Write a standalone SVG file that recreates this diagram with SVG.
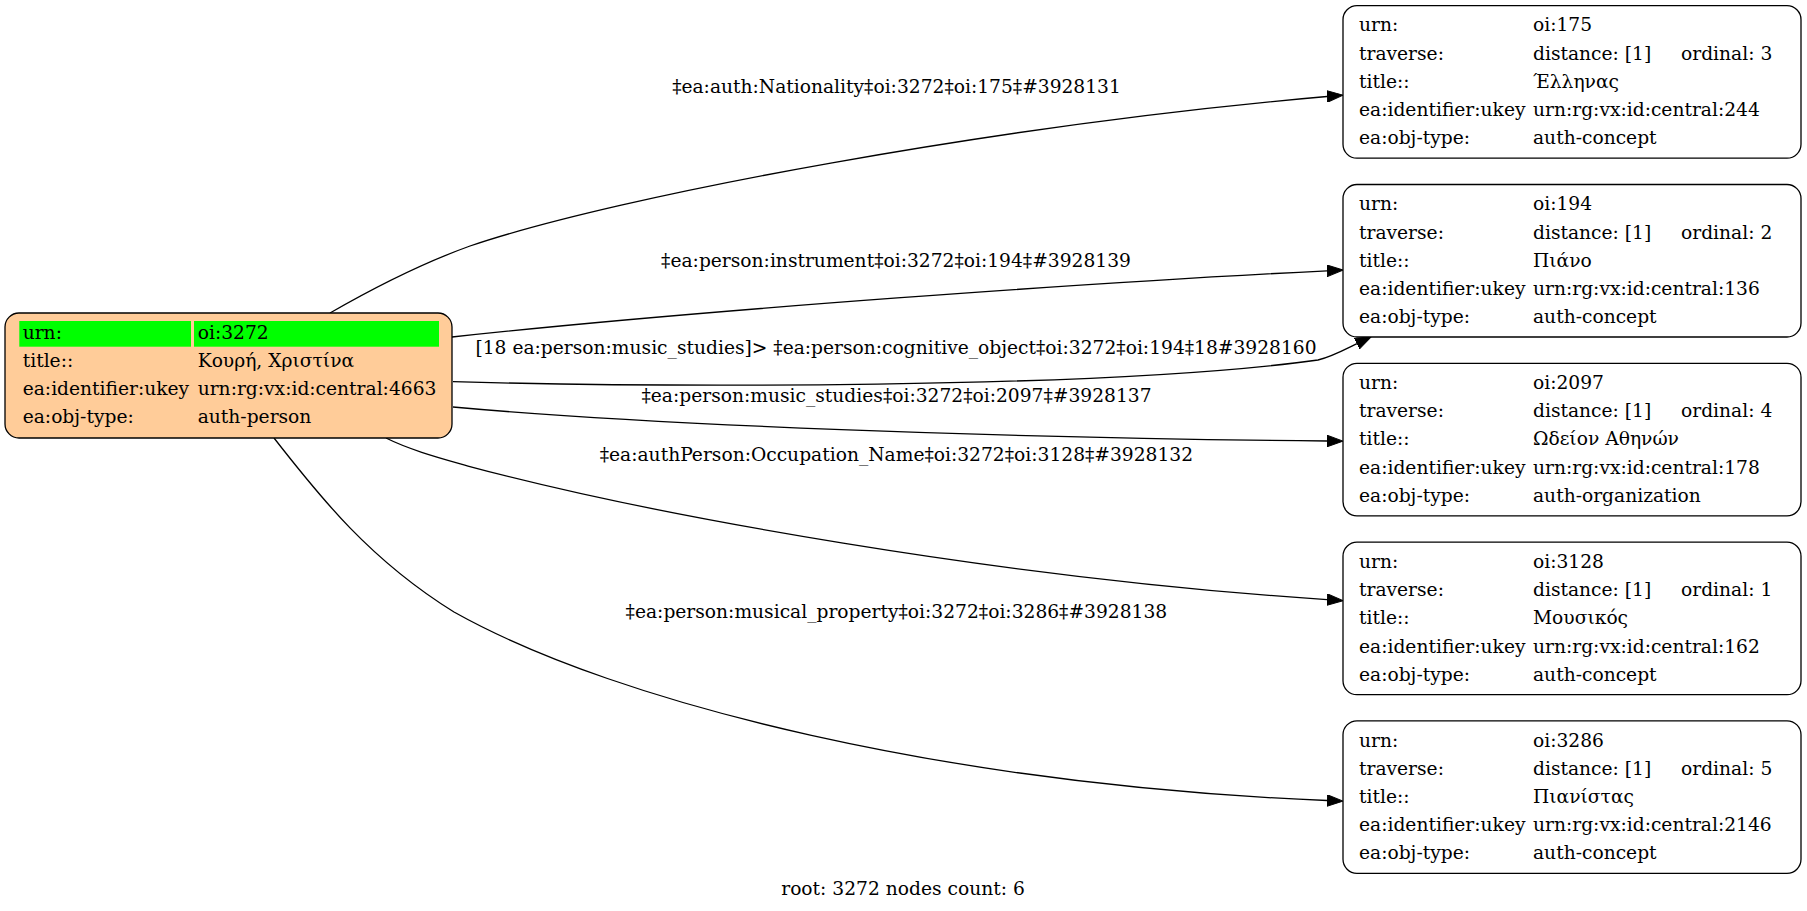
<svg xmlns="http://www.w3.org/2000/svg" width="1807" height="911" viewBox="0 0 1807 911">
<style>
text{font-family:"DejaVu Serif","Liberation Serif",serif;font-size:18.67px;fill:#000}
.lbl{text-anchor:middle}
.box{fill:#fff;stroke:#000;stroke-width:1.3}
.root{fill:#ffcc99;stroke:#000;stroke-width:1.3}
.edge{fill:none;stroke:#000;stroke-width:1.3}
</style>
<defs>
<marker id="ah" markerWidth="17" markerHeight="12" refX="0" refY="6" orient="auto" markerUnits="userSpaceOnUse">
<path d="M0,0.2 L16,6 L0,11.8 z" fill="#000" stroke="#000" stroke-width="1"/>
</marker>
</defs>
<rect width="1807" height="911" fill="#fff"/>
<g id="edges">
<path class="edge" marker-end="url(#ah)" d="M330,313 C370,290 420,264 470,246 C620,195 1000,125 1327,96.5"/>
<text class="lbl" x="896.5" y="93">‡ea:auth:Nationality‡oi:3272‡oi:175‡#3928131</text>
<path class="edge" marker-end="url(#ah)" d="M452,337 C700,310 1100,282 1327,270.8"/>
<text class="lbl" x="896" y="266.7">‡ea:person:instrument‡oi:3272‡oi:194‡#3928139</text>
<path class="edge" marker-end="url(#ah)" d="M453,381.7 C650,387 1100,390 1318,360 C1331,357 1344,350 1357,343.6"/>
<text class="lbl" x="896" y="353.5">[18 ea:person:music_studies]&gt; ‡ea:person:cognitive_object‡oi:3272‡oi:194‡18#3928160</text>
<path class="edge" marker-end="url(#ah)" d="M453,407 C650,425 1000,438 1327,441"/>
<text class="lbl" x="896.5" y="401.7">‡ea:person:music_studies‡oi:3272‡oi:2097‡#3928137</text>
<path class="edge" marker-end="url(#ah)" d="M386,438 C410,450 440,458 468,466 C650,515 1000,578 1327,599.6"/>
<text class="lbl" x="896.4" y="460.7">‡ea:authPerson:Occupation_Name‡oi:3272‡oi:3128‡#3928132</text>
<path class="edge" marker-end="url(#ah)" d="M274,438 C320,497 370,560 454,612 C620,705 950,785 1327,800.5"/>
<text class="lbl" x="896.4" y="617.5">‡ea:person:musical_property‡oi:3272‡oi:3286‡#3928138</text>
</g>
<g id="root">
<rect class="root" x="5" y="313" width="447" height="125" rx="14" ry="14"/>
<rect x="19.3" y="321" width="171.7" height="25.7" fill="#00ff00"/>
<rect x="194" y="321" width="245" height="25.7" fill="#00ff00"/>
<text x="22.7" y="339">urn:</text><text x="197.7" y="339">oi:3272</text>
<text x="22.7" y="366.7">title::</text><text x="197.7" y="366.7">Κουρή, Χριστίνα</text>
<text x="22.7" y="395">ea:identifier:ukey</text><text x="197.7" y="395">urn:rg:vx:id:central:4663</text>
<text x="22.7" y="422.7">ea:obj-type:</text><text x="197.7" y="422.7">auth-person</text>
</g>
<g id="n175" transform="translate(0,5.7)">
<rect class="box" x="1343" y="0" width="458" height="152.5" rx="14" ry="14"/>
<text x="1359" y="25.8">urn:</text><text x="1533" y="25.8">oi:175</text>
<text x="1359" y="54">traverse:</text><text x="1533" y="54">distance: [1]</text><text x="1681" y="54">ordinal: 3</text>
<text x="1359" y="82.2">title::</text><text x="1533" y="82.2">Έλληνας</text>
<text x="1359" y="110.4">ea:identifier:ukey</text><text x="1533" y="110.4">urn:rg:vx:id:central:244</text>
<text x="1359" y="138.6">ea:obj-type:</text><text x="1533" y="138.6">auth-concept</text>
</g>
<g id="n194" transform="translate(0,184.5)">
<rect class="box" x="1343" y="0" width="458" height="152.5" rx="14" ry="14"/>
<text x="1359" y="25.8">urn:</text><text x="1533" y="25.8">oi:194</text>
<text x="1359" y="54">traverse:</text><text x="1533" y="54">distance: [1]</text><text x="1681" y="54">ordinal: 2</text>
<text x="1359" y="82.2">title::</text><text x="1533" y="82.2">Πιάνο</text>
<text x="1359" y="110.4">ea:identifier:ukey</text><text x="1533" y="110.4">urn:rg:vx:id:central:136</text>
<text x="1359" y="138.6">ea:obj-type:</text><text x="1533" y="138.6">auth-concept</text>
</g>
<g id="n2097" transform="translate(0,363.3)">
<rect class="box" x="1343" y="0" width="458" height="152.5" rx="14" ry="14"/>
<text x="1359" y="25.8">urn:</text><text x="1533" y="25.8">oi:2097</text>
<text x="1359" y="54">traverse:</text><text x="1533" y="54">distance: [1]</text><text x="1681" y="54">ordinal: 4</text>
<text x="1359" y="82.2">title::</text><text x="1533" y="82.2">Ωδείον Αθηνών</text>
<text x="1359" y="110.4">ea:identifier:ukey</text><text x="1533" y="110.4">urn:rg:vx:id:central:178</text>
<text x="1359" y="138.6">ea:obj-type:</text><text x="1533" y="138.6">auth-organization</text>
</g>
<g id="n3128" transform="translate(0,542.2)">
<rect class="box" x="1343" y="0" width="458" height="152.5" rx="14" ry="14"/>
<text x="1359" y="25.8">urn:</text><text x="1533" y="25.8">oi:3128</text>
<text x="1359" y="54">traverse:</text><text x="1533" y="54">distance: [1]</text><text x="1681" y="54">ordinal: 1</text>
<text x="1359" y="82.2">title::</text><text x="1533" y="82.2">Μουσικός</text>
<text x="1359" y="110.4">ea:identifier:ukey</text><text x="1533" y="110.4">urn:rg:vx:id:central:162</text>
<text x="1359" y="138.6">ea:obj-type:</text><text x="1533" y="138.6">auth-concept</text>
</g>
<g id="n3286" transform="translate(0,720.8)">
<rect class="box" x="1343" y="0" width="458" height="152.5" rx="14" ry="14"/>
<text x="1359" y="25.8">urn:</text><text x="1533" y="25.8">oi:3286</text>
<text x="1359" y="54">traverse:</text><text x="1533" y="54">distance: [1]</text><text x="1681" y="54">ordinal: 5</text>
<text x="1359" y="82.2">title::</text><text x="1533" y="82.2">Πιανίστας</text>
<text x="1359" y="110.4">ea:identifier:ukey</text><text x="1533" y="110.4">urn:rg:vx:id:central:2146</text>
<text x="1359" y="138.6">ea:obj-type:</text><text x="1533" y="138.6">auth-concept</text>
</g>
<text class="lbl" x="903" y="895">root: 3272 nodes count: 6</text>
</svg>
